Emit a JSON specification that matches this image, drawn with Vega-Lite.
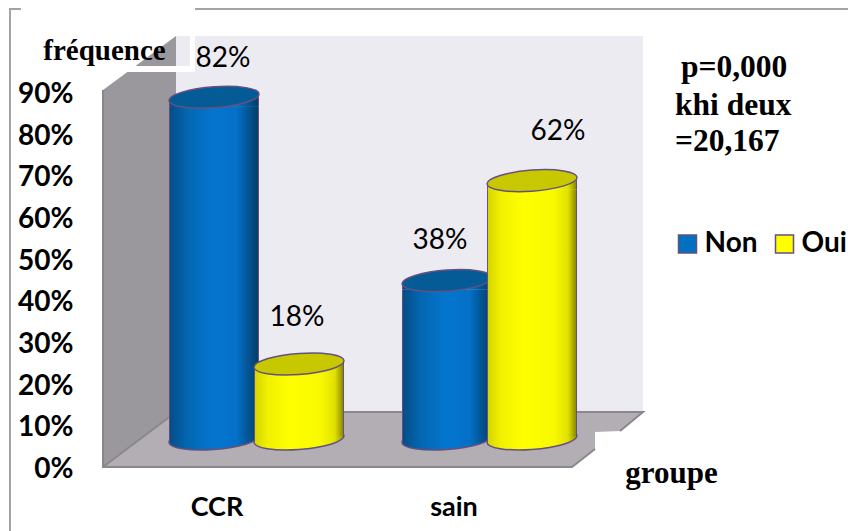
{
  "$schema": "https://vega.github.io/schema/vega-lite/v6.json",
  "width": 848,
  "height": 531,
  "padding": 0,
  "autosize": {"type": "none"},
  "background": "#ffffff",
  "config": {"view": {"stroke": null}},
  "datasets": {
    "cylindres": [
      {"groupe": "CCR", "serie": "Non", "valeur": 0.82},
      {"groupe": "CCR", "serie": "Oui", "valeur": 0.18},
      {"groupe": "sain", "serie": "Non", "valeur": 0.38},
      {"groupe": "sain", "serie": "Oui", "valeur": 0.62}
    ],
    "paroi": [
      {"u": -0.6588, "bas": 0, "haut": 0.9047},
      {"u": -0.3455, "bas": 0.132, "haut": 1.0343}
    ],
    "plancher": [
      {"u": -0.6588, "bas": 0, "haut": 0},
      {"u": -0.3455, "bas": 0, "haut": 0.132},
      {"u": 1.3541, "bas": 0, "haut": 0.132},
      {"u": 1.4528, "bas": 0.0432, "haut": 0.132},
      {"u": 1.4528, "bas": 0.084, "haut": 0.132},
      {"u": 1.5601, "bas": 0.0864, "haut": 0.132},
      {"u": 1.6588, "bas": 0.132, "haut": 0.132}
    ],
    "aretes": [
      {"trait": "a", "ordre": 1, "u": -0.6588, "v": 0.9047},
      {"trait": "a", "ordre": 2, "u": -0.6588, "v": 0},
      {"trait": "a", "ordre": 3, "u": 1.3541, "v": 0},
      {"trait": "a", "ordre": 4, "u": 1.4528, "v": 0.0432},
      {"trait": "b", "ordre": 1, "u": -0.6588, "v": 0},
      {"trait": "b", "ordre": 2, "u": -0.3455, "v": 0.132},
      {"trait": "b", "ordre": 3, "u": 1.6588, "v": 0.132},
      {"trait": "b", "ordre": 4, "u": 1.5601, "v": 0.0864}
    ],
    "cadre": [
      {"trait": "a", "ordre": 1, "u": -1.0579, "v": -0.1536},
      {"trait": "a", "ordre": 2, "u": -1.0579, "v": 1.0991},
      {"trait": "a", "ordre": 3, "u": -1.0107, "v": 1.0991},
      {"trait": "b", "ordre": 1, "u": -0.2639, "v": 1.0991},
      {"trait": "b", "ordre": 2, "u": 2.5386, "v": 1.0991}
    ],
    "masques": [
      {"u": -0.5644, "u2": -0.2639, "v": 0.9479, "v2": 0.9623},
      {"u": -0.2854, "u2": -0.2639, "v": 0.9479, "v2": 1.0343}
    ],
    "statistiques": [
      {"texte": "p=0,000", "u": 1.8219, "v": 0.9359},
      {"texte": "khi deux", "u": 1.7961, "v": 0.8447},
      {"texte": "=20,167", "u": 1.7961, "v": 0.7583}
    ]
  },
  "layer": [
    {
      "data": {"name": "paroi"},
      "mark": {"type": "area", "color": "#9a989c", "opacity": 1},
      "encoding": {
        "x": {"field": "u", "type": "quantitative", "scale": {"domain": [-1.1009, 2.5386], "nice": false, "zero": false}, "axis": null},
        "y": {
          "field": "bas",
          "type": "quantitative",
          "scale": {"domain": [-0.1536, 1.1207], "nice": false, "zero": false},
          "axis": {
            "values": [0, 0.1, 0.2, 0.3, 0.4, 0.5, 0.6, 0.7, 0.8, 0.9],
            "format": ".0%",
            "domain": false,
            "ticks": false,
            "grid": false,
            "labelAlign": "right",
            "labelBaseline": "middle",
            "labelPadding": -73,
            "labelOffset": 2.5,
            "labelFont": "Lato",
            "labelFontWeight": "bold",
            "labelFontSize": 28,
            "labelColor": "#000000",
            "title": "fréquence",
            "titleX": 104,
            "titleY": 50,
            "titleAngle": 0,
            "titleAlign": "center",
            "titleBaseline": "middle",
            "titleFont": "Liberation Serif",
            "titleFontWeight": "bold",
            "titleFontSize": 29,
            "titleColor": "#000000",
            "zindex": 1
          }
        },
        "y2": {"field": "haut"}
      }
    },
    {
      "data": {"values": [{"u": -0.3455, "u2": 1.6588, "v": 0.132, "v2": 1.0343}]},
      "mark": {"type": "rect", "fill": "#ecebf2"},
      "encoding": {
        "x": {"field": "u", "type": "quantitative", "scale": {"domain": [-1.1009, 2.5386], "nice": false, "zero": false}, "axis": null},
        "x2": {"field": "u2"},
        "y": {"field": "v", "type": "quantitative", "axis": null},
        "y2": {"field": "v2"}
      }
    },
    {
      "data": {"name": "plancher"},
      "mark": {"type": "area", "color": "#b3aeb3", "opacity": 1},
      "encoding": {
        "x": {"field": "u", "type": "quantitative", "sort": null, "scale": {"domain": [-1.1009, 2.5386], "nice": false, "zero": false}, "axis": null},
        "y": {"field": "bas", "type": "quantitative", "axis": null},
        "y2": {"field": "haut"}
      }
    },
    {
      "data": {"name": "aretes"},
      "mark": {"type": "line", "color": "#8a888c", "strokeWidth": 2},
      "encoding": {
        "x": {"field": "u", "type": "quantitative", "scale": {"domain": [-1.1009, 2.5386], "nice": false, "zero": false}, "axis": null},
        "y": {"field": "v", "type": "quantitative", "axis": null},
        "detail": {"field": "trait"},
        "order": {"field": "ordre"}
      }
    },
    {
      "data": {"name": "masques"},
      "mark": {"type": "rect", "fill": "#ffffff"},
      "encoding": {
        "x": {"field": "u", "type": "quantitative", "scale": {"domain": [-1.1009, 2.5386], "nice": false, "zero": false}, "axis": null},
        "x2": {"field": "u2"},
        "y": {"field": "v", "type": "quantitative", "axis": null},
        "y2": {"field": "v2"}
      }
    },
    {
      "data": {"name": "cadre"},
      "mark": {"type": "line", "color": "#a3a3a3", "strokeWidth": 2},
      "encoding": {
        "x": {"field": "u", "type": "quantitative", "scale": {"domain": [-1.1009, 2.5386], "nice": false, "zero": false}, "axis": null},
        "y": {"field": "v", "type": "quantitative", "axis": null},
        "detail": {"field": "trait"},
        "order": {"field": "ordre"}
      }
    },
    {
      "data": {"name": "statistiques"},
      "mark": {"type": "text", "align": "left", "baseline": "alphabetic", "font": "Liberation Serif", "fontWeight": "bold", "fontSize": 31.5, "color": "#000000"},
      "encoding": {
        "x": {"field": "u", "type": "quantitative", "scale": {"domain": [-1.1009, 2.5386], "nice": false, "zero": false}, "axis": null},
        "y": {"field": "v", "type": "quantitative", "axis": null},
        "text": {"field": "texte"}
      }
    },
    {
      "data": {"name": "cylindres"},
      "mark": {"type": "bar", "width": 88, "yOffset": -19, "y2Offset": -37},
      "encoding": {
        "x": {
          "field": "groupe",
          "type": "nominal",
          "scale": {"domain": ["CCR", "sain"], "range": [140, 606], "paddingInner": 0, "paddingOuter": 0},
          "axis": {
            "orient": "bottom",
            "offset": -24,
            "domain": false,
            "ticks": false,
            "grid": false,
            "labelAngle": 0,
            "labelAlign": "center",
            "labelBaseline": "middle",
            "labelPadding": 0,
            "labelOffset": {"condition": {"test": "datum.label === 'CCR'", "value": -39.5}, "value": -35.5},
            "labelFont": "Lato",
            "labelFontWeight": "bold",
            "labelFontSize": 27,
            "labelColor": "#000000",
            "title": "groupe",
            "titleX": 671,
            "titleY": -34,
            "titleAngle": 0,
            "titleAlign": "center",
            "titleBaseline": "middle",
            "titleFont": "Liberation Serif",
            "titleFontWeight": "bold",
            "titleFontSize": 31,
            "titleColor": "#000000",
            "zindex": 1
          }
        },
        "xOffset": {"field": "serie", "type": "nominal", "scale": {"domain": ["Non", "Oui"], "paddingInner": 0, "paddingOuter": 0.37}},
        "y": {"field": "valeur", "type": "quantitative", "stack": null, "axis": null},
        "y2": {"datum": 0},
        "color": {
          "field": "serie",
          "type": "nominal",
          "scale": {"domain": ["Non", "Oui"], "range": ["#0070c0", "#ffff00"]},
          "legend": {
            "title": null,
            "orient": "none",
            "legendX": 673.5,
            "legendY": 230,
            "direction": "horizontal",
            "columns": 2,
            "columnPadding": 12,
            "symbolType": "square",
            "symbolSize": 324,
            "symbolStrokeColor": "#66507f",
            "symbolStrokeWidth": 1.5,
            "labelFont": "Lato",
            "labelFontWeight": "bold",
            "labelFontSize": 28,
            "labelColor": "#000000",
            "labelOffset": 3
          }
        }
      }
    },
    {
      "data": {"name": "cylindres"},
      "transform": [{"filter": "datum.serie === 'Non'"}],
      "encoding": {
        "x": {"field": "groupe", "type": "nominal", "scale": {"domain": ["CCR", "sain"], "range": [140, 606], "paddingInner": 0, "paddingOuter": 0}, "axis": null},
        "xOffset": {"field": "serie", "type": "nominal", "scale": {"domain": ["Non", "Oui"], "paddingInner": 0, "paddingOuter": 0.37}}
      },
      "layer": [
        {
          "mark": {"type": "point", "shape": "M1,-0.07C1,0.059,0.552,0.195,0,0.234C-0.552,0.273,-1,0.199,-1,0.07C-1,-0.059,-0.552,-0.195,0,-0.234C0.552,-0.273,1,-0.199,1,-0.07Z", "size": 8100, "filled": true, "opacity": 1, "yOffset": -28, "stroke": "#66507f", "strokeWidth": 1.5,
            "fill": {"gradient": "linear", "x1": 0, "x2": 1, "y1": 0, "y2": 0, "stops": [{"offset": 0, "color": "#044e87"}, {"offset": 0.2, "color": "#0466b0"}, {"offset": 0.5, "color": "#0476d0"}, {"offset": 0.75, "color": "#0470c8"}, {"offset": 1, "color": "#033f6a"}]}},
          "encoding": {"y": {"datum": 0, "type": "quantitative", "axis": null}}
        },
        {
          "mark": {"type": "point", "shape": "M-1,0.07L1,-0.07L1,-0.2L-1,-0.2Z", "size": 8100, "filled": true, "opacity": 1, "yOffset": -28, "strokeWidth": 0,
            "fill": {"gradient": "linear", "x1": 0, "x2": 1, "y1": 0, "y2": 0, "stops": [{"offset": 0, "color": "#66507f"}, {"offset": 0.015, "color": "#66507f"}, {"offset": 0.016, "color": "#044e87"}, {"offset": 0.2, "color": "#0466b0"}, {"offset": 0.5, "color": "#0476d0"}, {"offset": 0.75, "color": "#0470c8"}, {"offset": 0.984, "color": "#033f6a"}, {"offset": 0.985, "color": "#66507f"}, {"offset": 1, "color": "#66507f"}]}},
          "encoding": {"y": {"datum": 0, "type": "quantitative", "axis": null}}
        },
        {
          "mark": {"type": "bar", "width": 90, "yOffset": -19, "y2Offset": -37,
            "fill": {"gradient": "linear", "x1": 0, "x2": 1, "y1": 0, "y2": 0, "stops": [{"offset": 0, "color": "#66507f"}, {"offset": 0.015, "color": "#66507f"}, {"offset": 0.016, "color": "#044e87"}, {"offset": 0.2, "color": "#0466b0"}, {"offset": 0.5, "color": "#0476d0"}, {"offset": 0.75, "color": "#0470c8"}, {"offset": 0.984, "color": "#033f6a"}, {"offset": 0.985, "color": "#66507f"}, {"offset": 1, "color": "#66507f"}]}},
          "encoding": {"y": {"field": "valeur", "type": "quantitative", "stack": null, "axis": null}, "y2": {"datum": 0}}
        },
        {
          "mark": {"type": "point", "shape": "M-1,0.07L1,-0.07L1,0.2L-1,0.2Z", "size": 8100, "filled": true, "opacity": 1, "yOffset": -28, "strokeWidth": 0,
            "fill": {"gradient": "linear", "x1": 0, "x2": 1, "y1": 0, "y2": 0, "stops": [{"offset": 0, "color": "#66507f"}, {"offset": 0.015, "color": "#66507f"}, {"offset": 0.016, "color": "#044e87"}, {"offset": 0.2, "color": "#0466b0"}, {"offset": 0.5, "color": "#0476d0"}, {"offset": 0.75, "color": "#0470c8"}, {"offset": 0.984, "color": "#033f6a"}, {"offset": 0.985, "color": "#66507f"}, {"offset": 1, "color": "#66507f"}]}},
          "encoding": {"y": {"field": "valeur", "type": "quantitative", "axis": null}}
        },
        {
          "mark": {"type": "point", "shape": "M1,-0.07C1,0.059,0.552,0.195,0,0.234C-0.552,0.273,-1,0.199,-1,0.07C-1,-0.059,-0.552,-0.195,0,-0.234C0.552,-0.273,1,-0.199,1,-0.07Z", "size": 8100, "filled": true, "opacity": 1, "yOffset": -28, "fill": "#045b96", "stroke": "#66507f", "strokeWidth": 1.5},
          "encoding": {"y": {"field": "valeur", "type": "quantitative", "axis": null}}
        }
      ]
    },
    {
      "data": {"name": "cylindres"},
      "transform": [{"filter": "datum.serie === 'Oui'"}],
      "encoding": {
        "x": {"field": "groupe", "type": "nominal", "scale": {"domain": ["CCR", "sain"], "range": [140, 606], "paddingInner": 0, "paddingOuter": 0}, "axis": null},
        "xOffset": {"field": "serie", "type": "nominal", "scale": {"domain": ["Non", "Oui"], "paddingInner": 0, "paddingOuter": 0.37}}
      },
      "layer": [
        {
          "mark": {"type": "point", "shape": "M1,-0.07C1,0.059,0.552,0.195,0,0.234C-0.552,0.273,-1,0.199,-1,0.07C-1,-0.059,-0.552,-0.195,0,-0.234C0.552,-0.273,1,-0.199,1,-0.07Z", "size": 8100, "filled": true, "opacity": 1, "yOffset": -28, "stroke": "#66507f", "strokeWidth": 1.5,
            "fill": {"gradient": "linear", "x1": 0, "x2": 1, "y1": 0, "y2": 0, "stops": [{"offset": 0, "color": "#d6d600"}, {"offset": 0.15, "color": "#f0f000"}, {"offset": 0.4, "color": "#ffff00"}, {"offset": 0.75, "color": "#f8f800"}, {"offset": 0.9, "color": "#e0e000"}, {"offset": 1, "color": "#8f8f00"}]}},
          "encoding": {"y": {"datum": 0, "type": "quantitative", "axis": null}}
        },
        {
          "mark": {"type": "point", "shape": "M-1,0.07L1,-0.07L1,-0.2L-1,-0.2Z", "size": 8100, "filled": true, "opacity": 1, "yOffset": -28, "strokeWidth": 0,
            "fill": {"gradient": "linear", "x1": 0, "x2": 1, "y1": 0, "y2": 0, "stops": [{"offset": 0, "color": "#66507f"}, {"offset": 0.015, "color": "#66507f"}, {"offset": 0.016, "color": "#d6d600"}, {"offset": 0.15, "color": "#f0f000"}, {"offset": 0.4, "color": "#ffff00"}, {"offset": 0.75, "color": "#f8f800"}, {"offset": 0.9, "color": "#e0e000"}, {"offset": 0.984, "color": "#8f8f00"}, {"offset": 0.985, "color": "#66507f"}, {"offset": 1, "color": "#66507f"}]}},
          "encoding": {"y": {"datum": 0, "type": "quantitative", "axis": null}}
        },
        {
          "mark": {"type": "bar", "width": 90, "yOffset": -19, "y2Offset": -37,
            "fill": {"gradient": "linear", "x1": 0, "x2": 1, "y1": 0, "y2": 0, "stops": [{"offset": 0, "color": "#66507f"}, {"offset": 0.015, "color": "#66507f"}, {"offset": 0.016, "color": "#d6d600"}, {"offset": 0.15, "color": "#f0f000"}, {"offset": 0.4, "color": "#ffff00"}, {"offset": 0.75, "color": "#f8f800"}, {"offset": 0.9, "color": "#e0e000"}, {"offset": 0.984, "color": "#8f8f00"}, {"offset": 0.985, "color": "#66507f"}, {"offset": 1, "color": "#66507f"}]}},
          "encoding": {"y": {"field": "valeur", "type": "quantitative", "stack": null, "axis": null}, "y2": {"datum": 0}}
        },
        {
          "mark": {"type": "point", "shape": "M-1,0.07L1,-0.07L1,0.2L-1,0.2Z", "size": 8100, "filled": true, "opacity": 1, "yOffset": -28, "strokeWidth": 0,
            "fill": {"gradient": "linear", "x1": 0, "x2": 1, "y1": 0, "y2": 0, "stops": [{"offset": 0, "color": "#66507f"}, {"offset": 0.015, "color": "#66507f"}, {"offset": 0.016, "color": "#d6d600"}, {"offset": 0.15, "color": "#f0f000"}, {"offset": 0.4, "color": "#ffff00"}, {"offset": 0.75, "color": "#f8f800"}, {"offset": 0.9, "color": "#e0e000"}, {"offset": 0.984, "color": "#8f8f00"}, {"offset": 0.985, "color": "#66507f"}, {"offset": 1, "color": "#66507f"}]}},
          "encoding": {"y": {"field": "valeur", "type": "quantitative", "axis": null}}
        },
        {
          "mark": {"type": "point", "shape": "M1,-0.07C1,0.059,0.552,0.195,0,0.234C-0.552,0.273,-1,0.199,-1,0.07C-1,-0.059,-0.552,-0.195,0,-0.234C0.552,-0.273,1,-0.199,1,-0.07Z", "size": 8100, "filled": true, "opacity": 1, "yOffset": -28, "fill": "#c8c800", "stroke": "#66507f", "strokeWidth": 1.5},
          "encoding": {"y": {"field": "valeur", "type": "quantitative", "axis": null}}
        }
      ]
    },
    {
      "data": {"name": "cylindres"},
      "encoding": {
        "x": {"field": "groupe", "type": "nominal", "scale": {"domain": ["CCR", "sain"], "range": [140, 606], "paddingInner": 0, "paddingOuter": 0}, "axis": null},
        "xOffset": {"field": "serie", "type": "nominal", "scale": {"domain": ["Non", "Oui"], "paddingInner": 0, "paddingOuter": 0.37}},
        "y": {"field": "valeur", "type": "quantitative", "axis": null},
        "text": {"field": "valeur", "type": "quantitative", "format": ".0%"}
      },
      "layer": [
        {
          "transform": [{"filter": "datum.groupe === 'CCR' && datum.serie === 'Non'"}],
          "mark": {"type": "text", "font": "Lato", "fontSize": 28, "color": "#000000", "baseline": "middle", "dx": 9, "dy": -66}
        },
        {
          "transform": [{"filter": "datum.groupe === 'CCR' && datum.serie === 'Oui'"}],
          "mark": {"type": "text", "font": "Lato", "fontSize": 28, "color": "#000000", "baseline": "middle", "dx": -2, "dy": -74}
        },
        {
          "transform": [{"filter": "datum.groupe === 'sain' && datum.serie === 'Non'"}],
          "mark": {"type": "text", "font": "Lato", "fontSize": 28, "color": "#000000", "baseline": "middle", "dx": -7, "dy": -68}
        },
        {
          "transform": [{"filter": "datum.groupe === 'sain' && datum.serie === 'Oui'"}],
          "mark": {"type": "text", "font": "Lato", "fontSize": 28, "color": "#000000", "baseline": "middle", "dx": 26, "dy": -77}
        }
      ]
    }
  ],
  "resolve": {"scale": {"x": "independent"}, "axis": {"y": "independent"}}
}
